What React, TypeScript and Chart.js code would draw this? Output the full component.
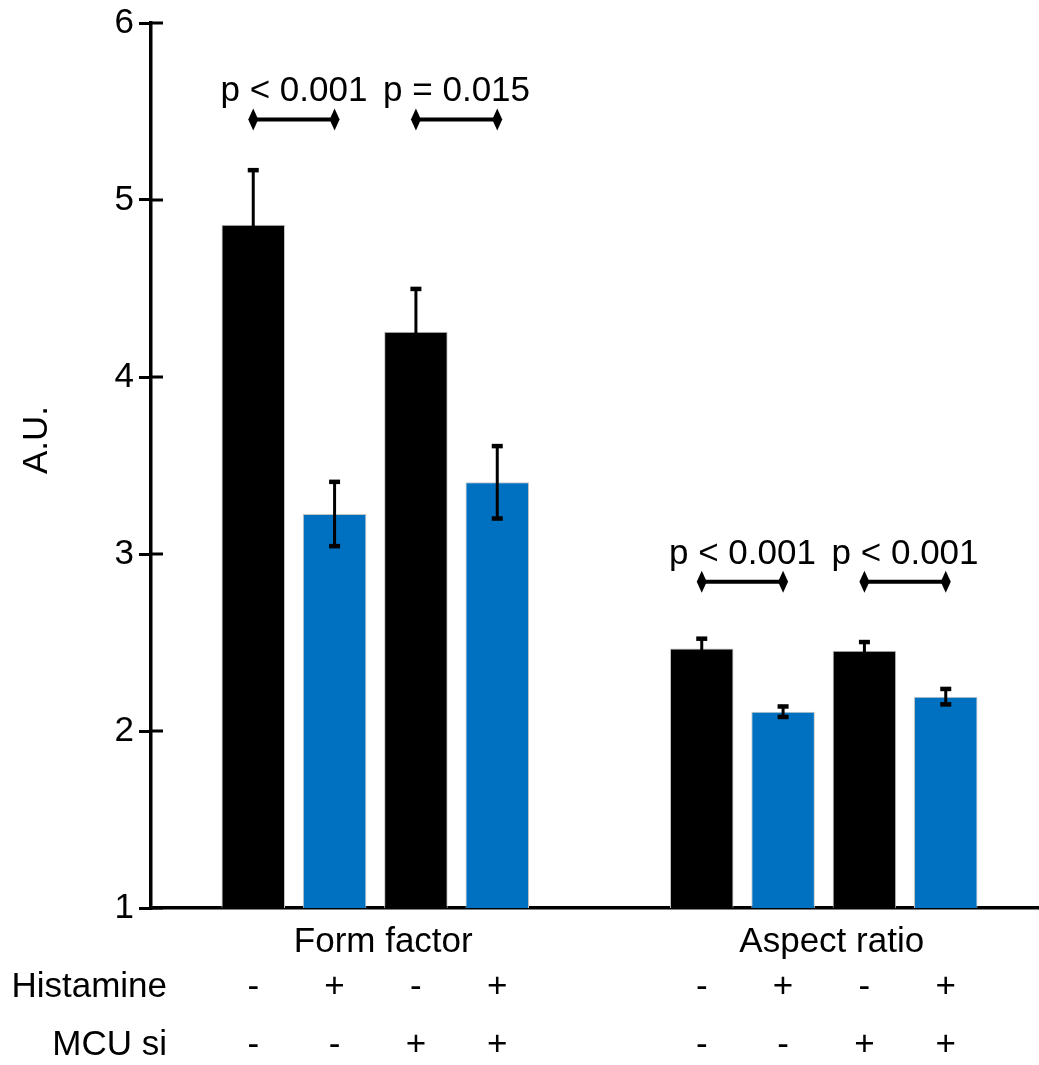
import React, { useEffect, useRef } from 'react';
import { Chart, registerables } from 'chart.js';

Chart.register(...registerables);

// ---- data ----
const categories = ['Form factor', 'Aspect ratio'];
const conditions = ['Control', 'Histamine', 'MCU si', 'MCU si + Histamine'];
const histamineSigns = ['-', '+', '-', '+'];
const mcuSiSigns = ['-', '-', '+', '+'];
const rowLabels = ['Histamine', 'MCU si'];

const controlMeans = [4.86, 2.466];
const histamineMeans = [3.226, 2.109];
const mcuSiMeans = [4.256, 2.454];
const mcuSiHistamineMeans = [3.405, 2.194];

const controlSem = [0.31, 0.057];
const histamineSem = [0.183, 0.031];
const mcuSiSem = [0.243, 0.05];
const mcuSiHistamineSem = [0.206, 0.045];

const yTicks = [1, 2, 3, 4, 5, 6];

const pLabels = ['p < 0.001', 'p = 0.015', 'p < 0.001', 'p < 0.001'];
const pCategory = [0, 0, 1, 1];
const pFrom = [0, 2, 0, 2];
const pTo = [1, 3, 1, 3];
const pLevel = [5.455, 5.455, 2.843, 2.843];

const BLACK = '#000000';
const BLUE = '#0070C0';
const FONT = "'Liberation Sans', Arial, sans-serif";
const FS = 35;

const means = [controlMeans, histamineMeans, mcuSiMeans, mcuSiHistamineMeans];
const sems = [controlSem, histamineSem, mcuSiSem, mcuSiHistamineSem];
const colors = [BLACK, BLUE, BLACK, BLUE];

const overlayPlugin = {
  id: 'overlay',
  afterDatasetsDraw(chart: any) {
    const ctx = chart.ctx;
    const ys = chart.scales.y;
    const area = chart.chartArea;
    ctx.save();

    // inner half of the cross ticks on y axis
    ctx.strokeStyle = BLACK;
    ctx.lineWidth = 3;
    yTicks.forEach((v) => {
      const y = ys.getPixelForValue(v);
      ctx.beginPath();
      ctx.moveTo(area.left, y);
      ctx.lineTo(area.left + 12, y);
      ctx.stroke();
    });

    // error bars
    means.forEach((arr, d) => {
      const meta = chart.getDatasetMeta(d);
      arr.forEach((m, i) => {
        const bar = meta.data[i];
        const x = bar.x;
        const yt = ys.getPixelForValue(m + sems[d][i]);
        const yb = ys.getPixelForValue(m - sems[d][i]);
        ctx.strokeStyle = BLACK;
        ctx.lineWidth = 3;
        ctx.beginPath();
        ctx.moveTo(x, yt);
        ctx.lineTo(x, yb);
        ctx.stroke();
        ctx.fillStyle = BLACK;
        ctx.fillRect(x - 5.5, yt - 2, 11, 4.5);
        ctx.fillRect(x - 5.5, yb - 2.5, 11, 4.5);
      });
    });

    // significance brackets
    pLabels.forEach((label, k) => {
      const c = pCategory[k];
      const xa = chart.getDatasetMeta(pFrom[k]).data[c].x;
      const xb = chart.getDatasetMeta(pTo[k]).data[c].x;
      const y = ys.getPixelForValue(pLevel[k]);
      ctx.strokeStyle = BLACK;
      ctx.lineWidth = 4;
      ctx.beginPath();
      ctx.moveTo(xa, y);
      ctx.lineTo(xb, y);
      ctx.stroke();
      ctx.fillStyle = BLACK;
      [xa, xb].forEach((x) => {
        ctx.beginPath();
        ctx.moveTo(x, y - 11);
        ctx.lineTo(x + 5, y);
        ctx.lineTo(x, y + 11);
        ctx.lineTo(x - 5, y);
        ctx.closePath();
        ctx.fill();
      });
      ctx.font = `${FS}px ${FONT}`;
      ctx.textAlign = 'center';
      ctx.textBaseline = 'alphabetic';
      ctx.fillText(label, (xa + xb) / 2, y - 18);
    });

    // condition rows
    ctx.font = `${FS}px ${FONT}`;
    ctx.fillStyle = BLACK;
    ctx.textBaseline = 'alphabetic';
    const rowY = [area.bottom + 89, area.bottom + 147];
    ctx.textAlign = 'right';
    rowLabels.forEach((t, r) => ctx.fillText(t, area.left + 16, rowY[r]));
    ctx.textAlign = 'center';
    [histamineSigns, mcuSiSigns].forEach((signs, r) => {
      categories.forEach((_, c) => {
        signs.forEach((s, d) => {
          const x = chart.getDatasetMeta(d).data[c].x;
          ctx.fillText(s, x, rowY[r]);
        });
      });
    });

    // y axis title
    ctx.save();
    ctx.translate(37, 440);
    ctx.rotate(-Math.PI / 2);
    ctx.textAlign = 'center';
    ctx.textBaseline = 'middle';
    ctx.fillText('A.U.', 0, 0);
    ctx.restore();

    ctx.restore();
  },
};

export default function App() {
  const ref = useRef<HTMLCanvasElement | null>(null);

  useEffect(() => {
    if (!ref.current) return;
    const chart = new Chart(ref.current, {
      type: 'bar',
      data: {
        labels: categories,
        datasets: conditions.map((name, d) => ({
          label: name,
          data: means[d],
          backgroundColor: colors[d],
          borderColor: '#c4c4c4',
          borderWidth: 1,
          barPercentage: 0.781,
          categoryPercentage: 0.7254,
        })),
      },
      options: {
        animation: false,
        responsive: false,
        maintainAspectRatio: false,
        devicePixelRatio: 1,
        layout: { padding: { top: 23, left: 0, right: 12, bottom: 0 } },
        plugins: {
          legend: { display: false },
          tooltip: { enabled: false },
        },
        scales: {
          x: {
            grid: { display: false, drawTicks: false },
            border: { display: true, color: BLACK, width: 3.5 },
            ticks: {
              color: BLACK,
              font: { family: FONT, size: FS },
              padding: 13,
              labelOffset: 8,
              maxRotation: 0,
              autoSkip: false,
            },
            afterFit: (s: any) => {
              s.height = 157;
              s.paddingLeft = 0;
              s.paddingRight = 0;
            },
          },
          y: {
            min: 1,
            max: 6,
            grid: {
              drawOnChartArea: false,
              drawTicks: true,
              tickLength: 12,
              lineWidth: 3,
              color: BLACK,
            },
            border: { display: true, color: BLACK, width: 3.5 },
            ticks: {
              stepSize: 1,
              color: BLACK,
              font: { family: FONT, size: FS },
              padding: 5,
            },
            afterFit: (s: any) => {
              s.width = 151;
              s.paddingTop = 0;
              s.paddingBottom = 0;
            },
          },
        },
      },
      plugins: [overlayPlugin],
    });
    return () => chart.destroy();
  }, []);

  return (
    <div
      style={{
        position: 'fixed',
        left: 0,
        top: 0,
        width: 1039,
        height: 1065,
        overflow: 'hidden',
        background: '#ffffff',
      }}
    >
      <canvas
        ref={ref}
        width={1060}
        height={1065}
        style={{ width: 1060, height: 1065, display: 'block' }}
      />
    </div>
  );
}
